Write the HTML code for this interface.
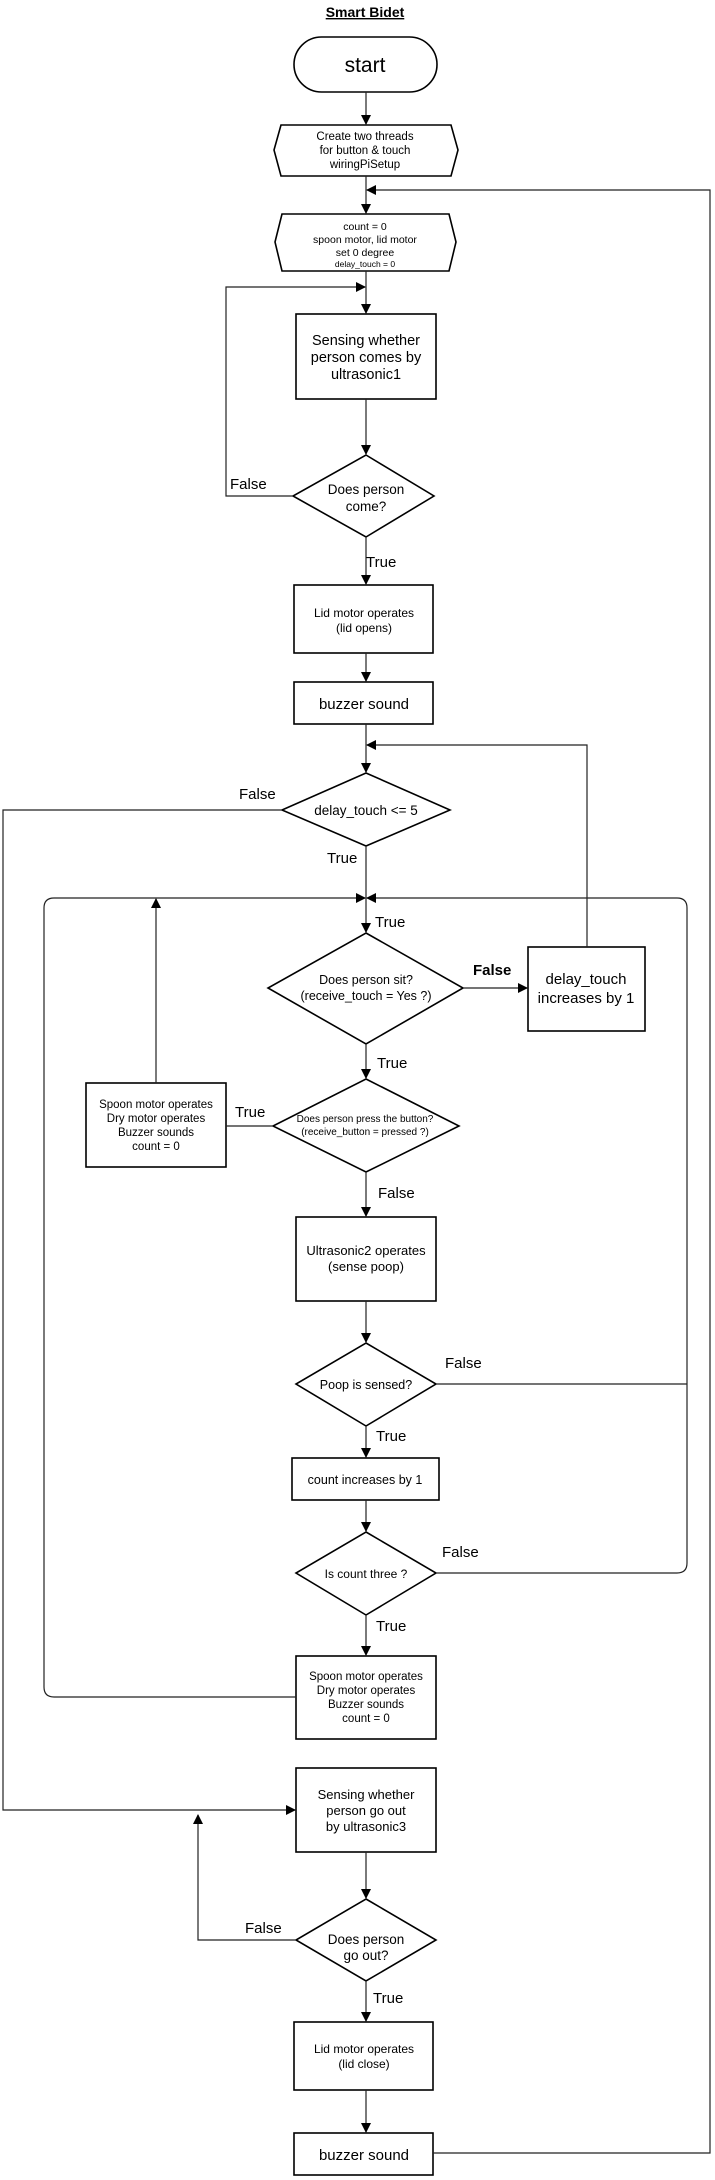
<!DOCTYPE html>
<html><head><meta charset="utf-8"><style>
html,body{margin:0;padding:0;background:#fff;}
svg{display:block;}
text{font-family:"Liberation Sans",Arial,sans-serif;fill:#000;}
</style></head><body>
<svg width="715" height="2180" viewBox="0 0 715 2180" xmlns="http://www.w3.org/2000/svg">
<defs>
<marker id="a" markerWidth="10" markerHeight="10" refX="9" refY="5" orient="auto" markerUnits="userSpaceOnUse"><path d="M0,0 L10,5 L0,10 z" fill="#000"/></marker>
</defs>
<g fill="none" stroke="#000" stroke-width="1.6">
<rect x="294" y="37" width="143" height="55" rx="27.5"/>
<polygon points="281,125 451,125 458,150 451,176 281,176 274,150"/>
<polygon points="282,214 449,214 456,242 449,271 282,271 275,242"/>
<rect x="296" y="314" width="140" height="85"/>
<polygon points="366,455 434,496 366,537 293,496"/>
<rect x="294" y="585" width="139" height="68"/>
<rect x="294" y="682" width="139" height="42"/>
<polygon points="366,773 450,810 366,846 282,810"/>
<polygon points="366,933 463,988 366,1044 268,988"/>
<rect x="528" y="947" width="117" height="84"/>
<polygon points="366,1079 459,1126 366,1172 273,1126"/>
<rect x="86" y="1083" width="140" height="84"/>
<rect x="296" y="1217" width="140" height="84"/>
<polygon points="366,1343 436,1384 366,1426 296,1384"/>
<rect x="292" y="1458" width="147" height="42"/>
<polygon points="366,1532 436,1573 366,1615 296,1573"/>
<rect x="296" y="1656" width="140" height="83"/>
<rect x="296" y="1768" width="140" height="84"/>
<polygon points="366,1899 436,1940 366,1981 296,1940"/>
<rect x="294" y="2022" width="139" height="68"/>
<rect x="294" y="2133" width="139" height="42"/>
</g>
<g fill="none" stroke="#222" stroke-width="1.2">
<line x1="366" y1="92" x2="366" y2="124" marker-end="url(#a)"/>
<line x1="366" y1="176" x2="366" y2="213" marker-end="url(#a)"/>
<line x1="366" y1="271" x2="366" y2="313" marker-end="url(#a)"/>
<line x1="366" y1="399" x2="366" y2="454" marker-end="url(#a)"/>
<line x1="366" y1="537" x2="366" y2="584" marker-end="url(#a)"/>
<line x1="366" y1="653" x2="366" y2="681" marker-end="url(#a)"/>
<line x1="366" y1="724" x2="366" y2="772" marker-end="url(#a)"/>
<line x1="366" y1="846" x2="366" y2="932" marker-end="url(#a)"/>
<line x1="366" y1="1044" x2="366" y2="1078" marker-end="url(#a)"/>
<line x1="366" y1="1172" x2="366" y2="1216" marker-end="url(#a)"/>
<line x1="366" y1="1301" x2="366" y2="1342" marker-end="url(#a)"/>
<line x1="366" y1="1426" x2="366" y2="1457" marker-end="url(#a)"/>
<line x1="366" y1="1500" x2="366" y2="1531" marker-end="url(#a)"/>
<line x1="366" y1="1615" x2="366" y2="1655" marker-end="url(#a)"/>
<line x1="366" y1="1852" x2="366" y2="1898" marker-end="url(#a)"/>
<line x1="366" y1="1981" x2="366" y2="2021" marker-end="url(#a)"/>
<line x1="366" y1="2090" x2="366" y2="2132" marker-end="url(#a)"/>
<polyline points="433,2153 710,2153 710,190 367,190" marker-end="url(#a)"/>
<polyline points="293,496 226,496 226,287 365,287" marker-end="url(#a)"/>
<polyline points="587,947 587,745 367,745" marker-end="url(#a)"/>
<line x1="463" y1="988" x2="527" y2="988" marker-end="url(#a)"/>
<polyline points="282,810 3,810 3,1810 295,1810" marker-end="url(#a)"/>
<line x1="226" y1="1126" x2="273" y2="1126"/>
<line x1="156" y1="1083" x2="156" y2="899" marker-end="url(#a)"/>
<path d="M296,1697 H54 Q44,1697 44,1687 V908 Q44,898 54,898 H365" marker-end="url(#a)"/>
<path d="M436,1573 H677 Q687,1573 687,1563 V908 Q687,898 677,898 H367" marker-end="url(#a)"/>
<line x1="436" y1="1384" x2="687" y2="1384"/>
<polyline points="296,1940 198,1940 198,1815" marker-end="url(#a)"/>
</g>
<text x="365" y="17" font-size="14" font-weight="bold" text-anchor="middle" text-decoration="underline">Smart Bidet</text>
<g text-anchor="middle">
<text x="365" y="72" font-size="21">start</text>
<text x="365" y="140" font-size="11.5">Create two threads</text>
<text x="365" y="154" font-size="11.5">for button &amp; touch</text>
<text x="365" y="168" font-size="11.5">wiringPiSetup</text>
<text x="365" y="230" font-size="10.5">count = 0</text>
<text x="365" y="243" font-size="10.5">spoon motor, lid motor</text>
<text x="365" y="256" font-size="10.5">set 0 degree</text>
<text x="365" y="267" font-size="8.5">delay_touch = 0</text>
<text x="366" y="345" font-size="14.5">Sensing whether</text>
<text x="366" y="362" font-size="14.5">person comes by</text>
<text x="366" y="379" font-size="14.5">ultrasonic1</text>
<text x="366" y="494" font-size="13.5">Does person</text>
<text x="366" y="511" font-size="13.5">come?</text>
<text x="364" y="617" font-size="12">Lid motor operates</text>
<text x="364" y="632" font-size="12">(lid opens)</text>
<text x="364" y="709" font-size="15">buzzer sound</text>
<text x="366" y="815" font-size="13.5">delay_touch &lt;= 5</text>
<text x="366" y="984" font-size="12.5">Does person sit?</text>
<text x="366" y="1000" font-size="12.5">(receive_touch = Yes ?)</text>
<text x="586" y="984" font-size="15">delay_touch</text>
<text x="586" y="1003" font-size="15">increases by 1</text>
<text x="365" y="1122" font-size="10">Does person press the button?</text>
<text x="365" y="1135" font-size="10">(receive_button = pressed ?)</text>
<text x="156" y="1108" font-size="11.5">Spoon motor operates</text>
<text x="156" y="1122" font-size="11.5">Dry motor operates</text>
<text x="156" y="1136" font-size="11.5">Buzzer sounds</text>
<text x="156" y="1150" font-size="11.5">count = 0</text>
<text x="366" y="1255" font-size="13">Ultrasonic2 operates</text>
<text x="366" y="1271" font-size="13">(sense poop)</text>
<text x="366" y="1389" font-size="12.5">Poop is sensed?</text>
<text x="365" y="1484" font-size="12.5">count increases by 1</text>
<text x="366" y="1578" font-size="12">Is count three ?</text>
<text x="366" y="1680" font-size="11.5">Spoon motor operates</text>
<text x="366" y="1694" font-size="11.5">Dry motor operates</text>
<text x="366" y="1708" font-size="11.5">Buzzer sounds</text>
<text x="366" y="1722" font-size="11.5">count = 0</text>
<text x="366" y="1799" font-size="13">Sensing whether</text>
<text x="366" y="1815" font-size="13">person go out</text>
<text x="366" y="1831" font-size="13">by ultrasonic3</text>
<text x="366" y="1944" font-size="13.5">Does person</text>
<text x="366" y="1960" font-size="13.5">go out?</text>
<text x="364" y="2053" font-size="12">Lid motor operates</text>
<text x="364" y="2068" font-size="12">(lid close)</text>
<text x="364" y="2160" font-size="15">buzzer sound</text>
</g>
<g font-size="15">
<text x="230" y="489">False</text>
<text x="366" y="567">True</text>
<text x="239" y="799">False</text>
<text x="327" y="863">True</text>
<text x="375" y="927">True</text>
<text x="473" y="975" font-weight="bold">False</text>
<text x="377" y="1068">True</text>
<text x="235" y="1117">True</text>
<text x="378" y="1198">False</text>
<text x="445" y="1368">False</text>
<text x="376" y="1441">True</text>
<text x="442" y="1557">False</text>
<text x="376" y="1631">True</text>
<text x="245" y="1933">False</text>
<text x="373" y="2003">True</text>
</g>
</svg>
</body></html>
